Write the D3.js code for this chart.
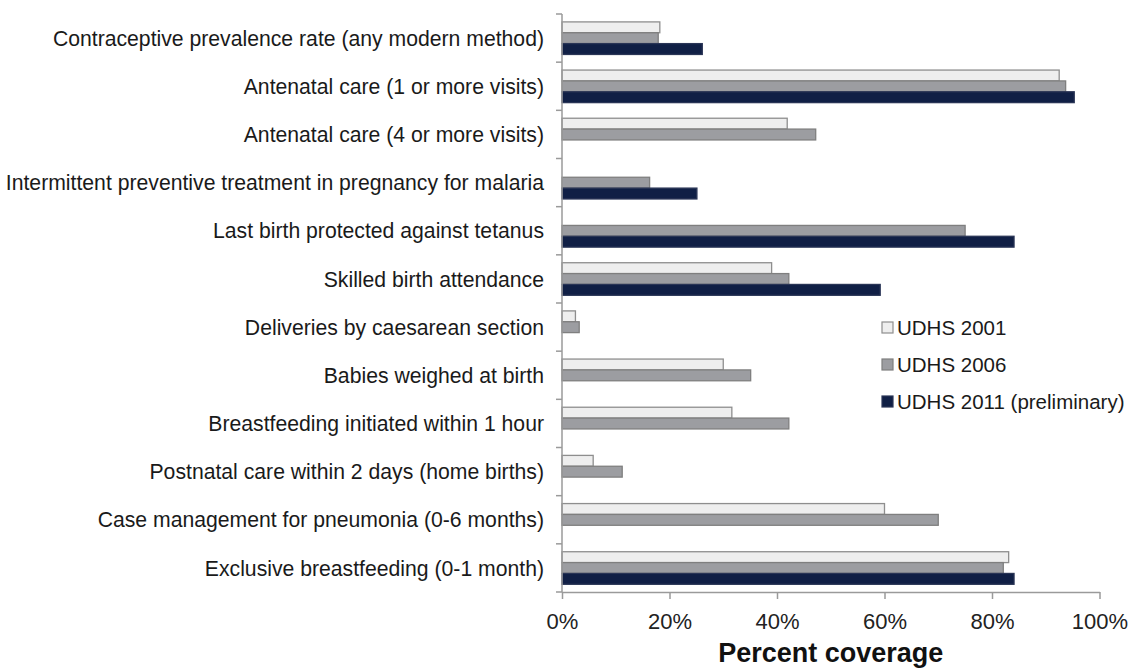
<!DOCTYPE html>
<html>
<head>
<meta charset="utf-8">
<script src="https://cdn.jsdelivr.net/npm/d3@7"></script>
<style>
  body { margin: 0; background: #fff; }
  svg { font-family: "Liberation Sans", Arial, sans-serif; }
  .axis path, .axis line { stroke: #9a9a9a; stroke-width: 1.5; }
  .axis text { font-size: 22px; fill: #222; }
</style>
</head>
<body>
<div id="chart"></div>
<script>
// indicators, top to bottom
var categories = [
    "Contraceptive prevalence rate (any modern method)",
    "Antenatal care (1 or more visits)",
    "Antenatal care (4 or more visits)",
    "Intermittent preventive treatment in pregnancy for malaria",
    "Last birth protected against tetanus",
    "Skilled birth attendance",
    "Deliveries by caesarean section",
    "Babies weighed at birth",
    "Breastfeeding initiated within 1 hour",
    "Postnatal care within 2 days (home births)",
    "Case management for pneumonia (0-6 months)",
    "Exclusive breastfeeding (0-1 month)"
];

var seriesNames = ["UDHS 2001", "UDHS 2006", "UDHS 2011 (preliminary)"];

// percent coverage, null = not reported
var udhs2001 = [18.2, 92.5, 41.9, null, null, 39.0, 2.5, 30.0, 31.6, 5.8, 60.0, 83.1];
var udhs2006 = [17.9, 93.7, 47.2, 16.3, 75.0, 42.2, 3.2, 35.1, 42.2, 11.2, 70.0, 82.1];
var udhs2011 = [26.1, 95.3, null, 25.1, 84.1, 59.2, null, null, null, null, null, 84.1];

var xTicks = [0, 20, 40, 60, 80, 100];

var fills = ["#eeeeee", "#9c9da1", "#101f45"];
var strokes = ["#8e8e8e", "#7f7f7f", "#2a3556"];

var width = 1133, height = 668;
var margin = { top: 14, right: 33, bottom: 76, left: 562 };

var svg = d3.select("#chart")
    .append("svg")
    .attr("width", width)
    .attr("height", height);

var x = d3.scaleLinear()
    .domain([0, 100])
    .range([margin.left, width - margin.right - 0.5]);

var y = d3.scaleBand()
    .domain(categories)
    .range([margin.top, height - margin.bottom]);

var ySub = d3.scaleBand()
    .domain(seriesNames)
    .range([y.bandwidth() * 0.164, y.bandwidth() * 0.84]);

var rows = categories.map(function(c, i) {
    return { cat: c, vals: [udhs2001[i], udhs2006[i], udhs2011[i]] };
});

// bars
var groups = svg.append("g").selectAll("g")
    .data(rows)
    .enter()
    .append("g")
    .attr("transform", d => "translate(0," + y(d.cat) + ")");

groups.selectAll("rect")
    .data(d => d.vals.map((v, k) => ({ v: v, k: k })).filter(e => e.v != null))
    .enter()
    .append("rect")
    .attr("x", x(0))
    .attr("y", e => ySub(seriesNames[e.k]))
    .attr("width", e => x(e.v) - x(0))
    .attr("height", ySub.bandwidth())
    .attr("fill", e => fills[e.k])
    .attr("stroke", e => strokes[e.k])
    .attr("stroke-width", 1.3);

// category labels
svg.append("g").selectAll("text")
    .data(categories)
    .enter()
    .append("text")
    .attr("x", 544)
    .attr("y", d => y(d) + y.bandwidth() / 2)
    .attr("dy", "0.36em")
    .attr("text-anchor", "end")
    .attr("font-size", "21.2px")
    .attr("fill", "#1a1a1a")
    .text(d => d);

// vertical axis with ticks between categories
var yAxis = svg.append("g").attr("class", "axis");
yAxis.append("line")
    .attr("x1", x(0)).attr("x2", x(0))
    .attr("y1", margin.top).attr("y2", height - margin.bottom);
yAxis.selectAll(".sep")
    .data(categories.concat(["end"]))
    .enter()
    .append("line")
    .attr("class", "sep")
    .attr("x1", x(0) - 6).attr("x2", x(0))
    .attr("y1", (d, i) => i < categories.length ? y(d) : y.range()[1])
    .attr("y2", (d, i) => i < categories.length ? y(d) : y.range()[1]);

// horizontal axis
var xAxis = svg.append("g")
    .attr("class", "axis")
    .attr("transform", "translate(0," + (height - margin.bottom) + ")")
    .call(d3.axisBottom(x)
        .tickValues(xTicks)
        .tickFormat(d => d + "%")
        .tickSizeInner(7)
        .tickSizeOuter(0)
        .tickPadding(14));
xAxis.selectAll("text").attr("font-family", null).attr("font-size", null);

svg.append("text")
    .attr("x", (x(0) + x(100)) / 2)
    .attr("y", 662)
    .attr("text-anchor", "middle")
    .attr("font-size", "27px")
    .attr("font-weight", "bold")
    .attr("fill", "#111")
    .text("Percent coverage");

// legend
var legend = svg.append("g").selectAll("g")
    .data(seriesNames)
    .enter()
    .append("g")
    .attr("transform", (d, i) => "translate(882," + (328 + i * 37) + ")");

legend.append("rect")
    .attr("x", 0)
    .attr("y", -6)
    .attr("width", 11)
    .attr("height", 11)
    .attr("fill", (d, i) => fills[i])
    .attr("stroke", (d, i) => strokes[i])
    .attr("stroke-width", 1.2);

legend.append("text")
    .attr("x", 15)
    .attr("dy", "0.36em")
    .attr("font-size", "20.5px")
    .attr("fill", "#1a1a1a")
    .text(d => d);
</script>
</body>
</html>
